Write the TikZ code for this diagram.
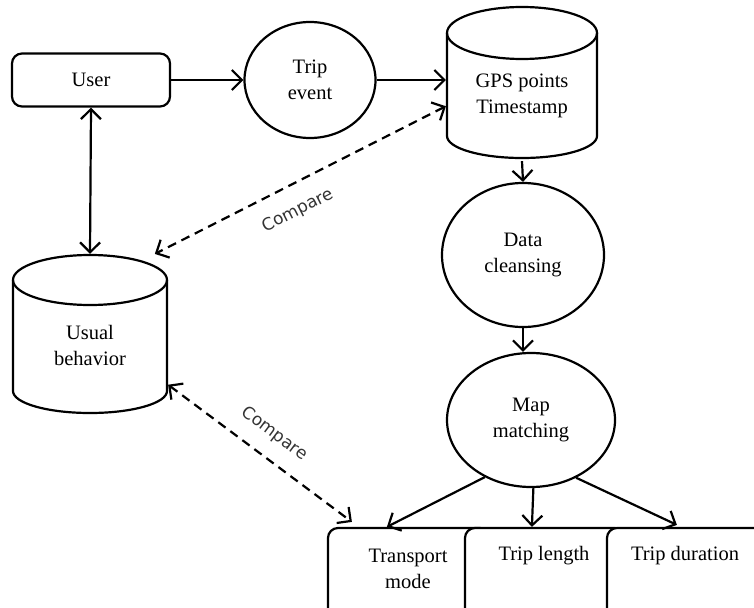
\documentclass[tikz,border=0pt]{standalone}
\usepackage{fontspec}
\setmainfont{Liberation Serif}
\newfontfamily\cmpfont{DejaVu Sans}
\usetikzlibrary{shapes.geometric,arrows.meta,calc}
\begin{document}
\begin{tikzpicture}[x=1pt,y=-1pt,
  line width=2.2pt,
  every node/.style={font=\fontsize{20.5}{26}\selectfont, align=center, inner sep=0pt},
  tip/.tip={Straight Barb[length=10pt,width=20pt,line width=2.2pt]},
  arr/.style={-tip},
  darr/.style={tip-tip, dash pattern=on 9pt off 6pt},
  barr/.style={tip-tip},
  rbox/.style={draw, rounded corners=10pt, fill=white},
  oval/.style={draw, ellipse},
  cmp/.style={font=\cmpfont\fontsize{17}{18}\selectfont, text=black!80},
]
\useasboundingbox (0,0) rectangle (754,607);

% User box
\node[rbox, minimum width=158pt, minimum height=53pt] (user) at (91,80) {User};
% Trip event
\node[oval, minimum width=131pt, minimum height=116pt] (trip) at (310,80) {Trip\\event};
% GPS cylinder (outline drawn below)
\node[minimum width=150pt, minimum height=160pt] (gps) at (522,80) {};
\draw (522,33) ellipse [x radius=75pt, y radius=26pt];
\draw (447,33) -- (447,136) arc[start angle=180, end angle=360, x radius=75pt, y radius=22pt] -- (597,33);
\node (gpst) at (522,96) {GPS points\\Timestamp};
% Data cleansing
\node[oval, minimum width=162pt, minimum height=144pt] (dc) at (523,255) {Data\\cleansing};
% Map matching
\node[oval, minimum width=168pt, minimum height=134pt] (mm) at (531,420) {Map\\matching};
% Usual behavior cylinder
\node[minimum width=154pt, minimum height=158pt] (ub) at (90,334) {};
\draw (90,280) ellipse [x radius=77pt, y radius=25pt];
\draw (13,280) -- (13,391) arc[start angle=180, end angle=360, x radius=77pt, y radius=22pt] -- (167,280);
\node (ubt) at (90,345) {Usual\\behavior};

% bottom boxes
\begin{scope}
\clip (0,0) rectangle (754,607);
\node[rbox, minimum width=162pt, minimum height=100pt] (tm) at (409,578) {};
\node[rbox, minimum width=160pt, minimum height=100pt] (tl) at (545,578) {};
\node[rbox, minimum width=162pt, minimum height=100pt] (td) at (688,578) {};
\end{scope}
\node (tmt) at (408,569) {Transport\\mode};
\node (tlt) at (544,556) {Trip length};
\node (tdt) at (685,556) {Trip duration};

% connectors
\draw[arr] (user.east) -- (trip.west);
\draw[arr] (trip.east) -- (gps.west);
\draw[barr] (user.south) -- (ub.north);
\draw[arr] (gps.south) -- (dc.north);
\draw[arr] (dc.south) -- (dc.south |- mm.north);
\draw[arr] (mm.231) -- ($(tm.north west)+(60,0)$);
\draw[arr] (mm.272) -- ($(tl.north west)+(68,0)$);
\draw[arr] (mm.-52) -- ($(td.north west)+(71,-2)$);
\draw[darr] (gps.199) -- node[cmp, pos=0.55, below=17pt, sloped] (c1) {Compare} (ub.51);
\draw[darr] (ub.-33) -- node[cmp, pos=0.5, above=15pt, sloped] (c2) {Compare} ($(tm.north west)+(25,-5)$);
\end{tikzpicture}
\end{document}
